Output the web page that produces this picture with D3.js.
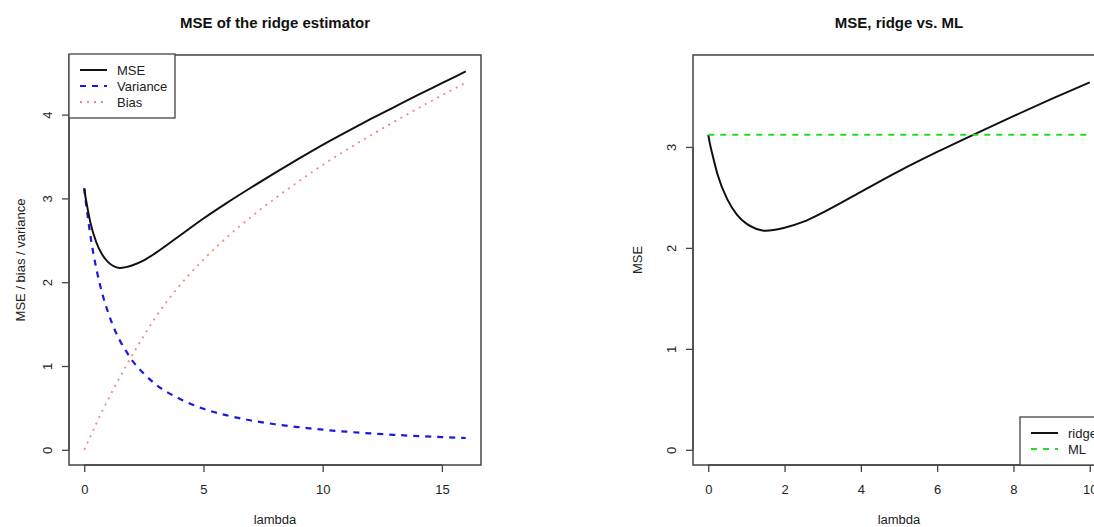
<!DOCTYPE html>
<html>
<head>
<meta charset="utf-8">
<script src="https://cdn.jsdelivr.net/npm/d3@7"></script>
<style>
  body { margin: 0; background: #fff; }
  svg { display: block; overflow: hidden; font-family: "Liberation Sans", Arial, Helvetica, sans-serif; }
</style>
</head>
<body>
<svg id="chart" width="1094" height="527"></svg>
<script>
// values
var lambda   = [0, 0.05, 0.1, 0.25, 0.5, 0.75, 1, 1.25, 1.5, 1.75, 2, 2.5, 3, 4, 5, 6, 7, 8, 9, 10, 11, 12, 13, 14, 15, 16];
var variance = [3.12, 2.99, 2.88, 2.57, 2.17, 1.87, 1.64, 1.45, 1.30, 1.18, 1.07, 0.91, 0.78, 0.61, 0.49, 0.41, 0.35, 0.305, 0.27, 0.24, 0.216, 0.196, 0.179, 0.164, 0.152, 0.141];
var bias     = [0, 0.031, 0.062, 0.155, 0.31, 0.46, 0.60, 0.74, 0.87, 1.00, 1.125, 1.36, 1.585, 1.96, 2.27, 2.54, 2.78, 3.00, 3.205, 3.40, 3.58, 3.75, 3.915, 4.075, 4.23, 4.38];
var mse      = [3.12, 3.02, 2.94, 2.72, 2.48, 2.33, 2.24, 2.19, 2.17, 2.18, 2.20, 2.26, 2.35, 2.555, 2.76, 2.95, 3.13, 3.305, 3.475, 3.64, 3.795, 3.945, 4.09, 4.235, 4.375, 4.515];

var mlLambda = [0, 10];
var mlMse    = [3.12, 3.12];

var leftXTicks  = [0, 5, 10, 15];
var leftYTicks  = [0, 1, 2, 3, 4];
var rightXTicks = [0, 2, 4, 6, 8, 10];
var rightYTicks = [0, 1, 2, 3];

var leftLegend  = ["MSE", "Variance", "Bias"];
var rightLegend = ["ridge", "ML"];

var svg = d3.select("#chart");

// R-style 4% padding of the data range
function pad(lo, hi) {
  var d = (hi - lo) * 0.04;
  return [lo - d, hi + d];
}

var styles = {
  mse:  {stroke: "#111", width: 2, dash: null, opacity: 1},
  vari: {stroke: "#1a1adf", width: 2.2, dash: "6,6", opacity: 1},
  bias: {stroke: "#ee3333", width: 1.8, dash: "2,5", opacity: 0.6},
  ml:   {stroke: "#22dd22", width: 2, dash: "6,6", opacity: 1}
};

function panel(opt) {
  var g = svg.append("g");
  var x = d3.scaleLinear().domain(opt.xdom).range([opt.left, opt.right]);
  var y = d3.scaleLinear().domain(opt.ydom).range([opt.bottom, opt.top]);

  // title
  g.append("text")
    .attr("x", (opt.left + opt.right) / 2).attr("y", 28)
    .attr("text-anchor", "middle")
    .style("font-size", "15px").style("font-weight", "bold").style("fill", "#111")
    .text(opt.title);

  // series
  var line = d3.line().curve(d3.curveMonotoneX)
    .x(function(d) { return x(d[0]); })
    .y(function(d) { return y(d[1]); });

  opt.series.forEach(function(s) {
    var st = styles[s.style];
    g.append("path")
      .datum(d3.zip(s.x, s.y))
      .attr("d", line)
      .attr("fill", "none")
      .attr("stroke", st.stroke)
      .attr("stroke-width", st.width)
      .attr("stroke-dasharray", st.dash)
      .attr("stroke-opacity", st.opacity);
  });

  // x axis
  var xa = g.append("g").attr("transform", "translate(0," + opt.bottom + ")")
    .call(d3.axisBottom(x).tickValues(opt.xticks).tickSize(7).tickFormat(d3.format("d")));
  xa.select(".domain").remove();
  xa.append("line")
    .attr("x1", x(opt.xticks[0])).attr("x2", x(opt.xticks[opt.xticks.length - 1]))
    .attr("stroke", "#444").attr("stroke-width", 1.3);
  xa.selectAll(".tick line").attr("stroke", "#444").attr("stroke-width", 1.3);
  xa.selectAll(".tick text").attr("y", 24).attr("dy", "0.35em")
    .style("font-size", "13px").style("fill", "#222").style("font-family", "inherit");

  // y axis
  var ya = g.append("g").attr("transform", "translate(" + opt.left + ",0)")
    .call(d3.axisLeft(y).tickValues(opt.yticks).tickSize(7).tickFormat(d3.format("d")));
  ya.select(".domain").remove();
  ya.append("line")
    .attr("y1", y(opt.yticks[0])).attr("y2", y(opt.yticks[opt.yticks.length - 1]))
    .attr("stroke", "#444").attr("stroke-width", 1.3);
  ya.selectAll(".tick line").attr("stroke", "#444").attr("stroke-width", 1.3);
  ya.selectAll(".tick text")
    .attr("x", 0).attr("dy", null)
    .attr("transform", "translate(-22,0) rotate(-90)")
    .attr("text-anchor", "middle").attr("dominant-baseline", "central")
    .style("font-size", "13px").style("fill", "#222").style("font-family", "inherit");

  // box
  g.append("rect")
    .attr("x", opt.left).attr("y", opt.top)
    .attr("width", opt.right - opt.left).attr("height", opt.bottom - opt.top)
    .attr("fill", "none").attr("stroke", "#444").attr("stroke-width", 1.5);

  // axis titles
  g.append("text")
    .attr("x", (opt.left + opt.right) / 2).attr("y", 519)
    .attr("text-anchor", "middle").attr("dominant-baseline", "central")
    .style("font-size", "13px").style("fill", "#222")
    .text("lambda");
  g.append("text")
    .attr("transform", "translate(" + opt.ylabX + "," + ((opt.top + opt.bottom) / 2) + ") rotate(-90)")
    .attr("text-anchor", "middle").attr("dominant-baseline", "central")
    .style("font-size", "13px").style("fill", "#222")
    .text(opt.ylab);

  // legend
  var L = opt.legend;
  var lg = g.append("g");
  lg.append("rect")
    .attr("x", L.x).attr("y", L.y).attr("width", L.w).attr("height", L.h)
    .attr("fill", "#fff").attr("stroke", "#444").attr("stroke-width", 1.3);
  L.names.forEach(function(n, i) {
    var st = styles[L.styles[i]];
    var yy = L.y + 16 + i * 16;
    lg.append("line")
      .attr("x1", L.x + 11).attr("x2", L.x + 38)
      .attr("y1", yy).attr("y2", yy)
      .attr("stroke", st.stroke).attr("stroke-width", st.width)
      .attr("stroke-dasharray", st.dash).attr("stroke-opacity", st.opacity);
    lg.append("text")
      .attr("x", L.x + 48).attr("y", yy)
      .attr("dominant-baseline", "central")
      .style("font-size", "13px").style("fill", "#222")
      .text(n);
  });
}

// left panel
panel({
  left: 69, right: 481, top: 55, bottom: 465,
  xdom: pad(0, 16), ydom: pad(0, 4.53),
  xticks: leftXTicks, yticks: leftYTicks,
  title: "MSE of the ridge estimator",
  ylab: "MSE / bias / variance", ylabX: 20,
  series: [
    {x: lambda, y: bias, style: "bias"},
    {x: lambda, y: variance, style: "vari"},
    {x: lambda, y: mse, style: "mse"}
  ],
  legend: {x: 69, y: 54, w: 106, h: 64, names: leftLegend, styles: ["mse", "vari", "bias"]}
});

// right panel: ridge MSE up to lambda = 10
var rIdx = d3.range(lambda.length).filter(function(i) { return lambda[i] <= 10; });
panel({
  left: 693, right: 1105, top: 55, bottom: 465,
  xdom: pad(0, 10), ydom: pad(0, 3.76),
  xticks: rightXTicks, yticks: rightYTicks,
  title: "MSE, ridge vs. ML",
  ylab: "MSE", ylabX: 637,
  series: [
    {x: rIdx.map(function(i) { return lambda[i]; }), y: rIdx.map(function(i) { return mse[i]; }), style: "mse"},
    {x: mlLambda, y: mlMse, style: "ml"}
  ],
  legend: {x: 1020, y: 417, w: 85, h: 48, names: rightLegend, styles: ["mse", "ml"]}
});
</script>
</body>
</html>
